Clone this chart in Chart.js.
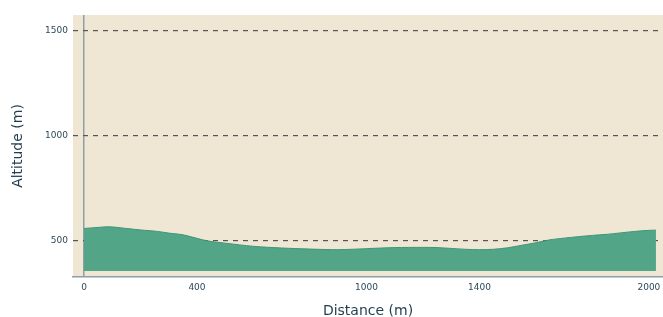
<!DOCTYPE html>
<html>
<head>
<meta charset="utf-8">
<script src="https://cdn.jsdelivr.net/npm/chart.js@4"></script>
<style>
  html, body { margin: 0; padding: 0; background: #fff; }
  #wrap { width: 663px; height: 317px; }
</style>
</head>
<body>
<div id="wrap"><canvas id="elevChart" width="663" height="317"></canvas></div>
<script>
// Profile data
const distance = [0, 50, 90, 150, 200, 260, 300, 350, 380, 420, 450, 500, 600, 700, 800, 850, 900, 950, 1000, 1100, 1200, 1250, 1300, 1350, 1400, 1450, 1500, 1550, 1600, 1650, 1700, 1750, 1800, 1850, 1900, 1950, 2000, 2025];
const altitude = [560, 565, 568, 560, 553, 546, 538, 530, 520, 506, 498, 490, 475, 467, 462, 460, 459, 461, 464, 469, 470, 469, 465, 461, 459, 461, 468, 480, 492, 506, 514, 521, 527, 532, 539, 546, 551, 552];
const xTicks = [0, 400, 1000, 1400, 2000];
const yTicks = [500, 1000, 1500];
const fillBase = 357;

const textColor = '#2b4a5a';

const plotBg = {
  id: 'plotBg',
  beforeDraw(chart) {
    const { ctx, chartArea: a } = chart;
    ctx.save();
    ctx.fillStyle = '#efe6d4';
    ctx.fillRect(a.left, a.top, a.right - a.left, a.bottom - a.top);
    ctx.restore();
  }
};

new Chart(document.getElementById('elevChart'), {
  type: 'line',
  data: {
    datasets: [{
      data: distance.map((d, i) => ({ x: d, y: altitude[i] })),
      borderColor: '#3f9677',
      borderWidth: 1,
      backgroundColor: '#52a687',
      fill: { value: fillBase },
      pointRadius: 0,
      tension: 0.3
    }]
  },
  options: {
    responsive: false,
    animation: false,
    layout: { padding: { top: 15, right: 0, left: 0, bottom: 0 } },
    plugins: { legend: { display: false }, tooltip: { enabled: false } },
    scales: {
      x: {
        type: 'linear',
        min: -39,
        max: 2050,
        afterBuildTicks: s => { s.ticks = xTicks.map(v => ({ value: v })); },
        afterFit: s => { s.height = 40; s.paddingLeft = 0; s.paddingRight = 0; },
        grid: {
          drawTicks: false,
          color: c => (c.tick && c.tick.value === 0) ? '#8e9fa7' : 'rgba(0,0,0,0)',
          lineWidth: 1.5
        },
        border: { display: true, color: '#8e9fa7', width: 1.5 },
        ticks: {
          padding: 5,
          color: textColor,
          font: { family: 'DejaVu Sans', size: 9 },
          maxRotation: 0,
          callback: v => String(v)
        },
        title: {
          display: true,
          text: 'Distance (m)',
          color: '#1f3d4d',
          font: { family: 'DejaVu Sans', size: 14 },
          padding: { top: 4, bottom: -3 }
        }
      },
      y: {
        min: 329,
        max: 1576,
        afterBuildTicks: s => { s.ticks = yTicks.map(v => ({ value: v })); },
        afterFit: s => { s.width = 73; s.paddingTop = 0; s.paddingBottom = 0; },
        grid: {
          drawTicks: false,
          color: '#555555',
          lineWidth: 1.2
        },
        border: { display: false, dash: [5, 5] },
        ticks: {
          padding: 5,
          color: textColor,
          font: { family: 'DejaVu Sans', size: 9 },
          callback: v => String(v)
        },
        title: {
          display: true,
          text: 'Altitude (m)',
          color: '#1f3d4d',
          font: { family: 'DejaVu Sans', size: 14 },
          padding: { top: 10, bottom: 0 }
        }
      }
    }
  },
  plugins: [plotBg]
});
</script>
</body>
</html>
